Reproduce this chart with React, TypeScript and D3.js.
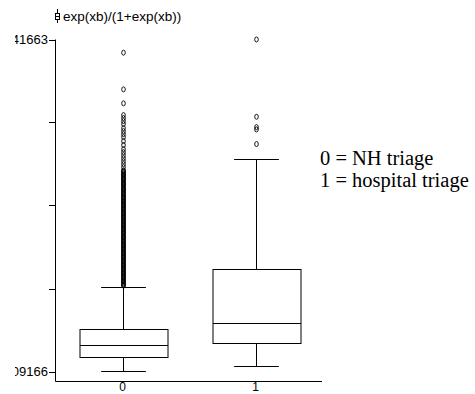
import React from "react";
import * as d3 from "d3";

// groups and box statistics (predicted probability)
const groups = ["0", "1"];
const lowerWhisker = [0.0092, 0.0161];
const q1 = [0.0278, 0.0466];
const median = [0.0431, 0.0722];
const q3 = [0.0649, 0.1432];
const upperWhisker = [0.1192, 0.2854];

const outliers0 = [
  0.4245, 0.3767, 0.3585, 0.3432, 0.3393, 0.3354, 0.3315, 0.3262, 0.3223,
  0.3184, 0.3145, 0.3093, 0.3041, 0.2988, 0.2949, 0.291, 0.2871, 0.2832,
  0.2793, 0.2754, 0.2712, 0.2701, 0.269, 0.2674, 0.2661, 0.2652, 0.264,
  0.2621, 0.2607, 0.2599, 0.2588, 0.2569, 0.2555, 0.2546, 0.2534, 0.2521,
  0.2509, 0.2492, 0.2478, 0.2466, 0.2457, 0.2441, 0.2425, 0.2413, 0.2404,
  0.2388, 0.2371, 0.2362, 0.2352, 0.2337, 0.2321, 0.2311, 0.23, 0.2283,
  0.2268, 0.2258, 0.2249, 0.2231, 0.2217, 0.2206, 0.2196, 0.2179, 0.2165,
  0.2154, 0.2144, 0.2127, 0.2112, 0.2103, 0.2093, 0.2077, 0.2061, 0.2049,
  0.204, 0.2024, 0.2009, 0.1998, 0.1988, 0.1971, 0.1957, 0.1946, 0.1935,
  0.1919, 0.1905, 0.1893, 0.1884, 0.1866, 0.1851, 0.1843, 0.1832, 0.1815,
  0.18, 0.1791, 0.1779, 0.1763, 0.1748, 0.1737, 0.1727, 0.1711, 0.1696,
  0.1687, 0.1675, 0.1658, 0.1643, 0.1633, 0.1624, 0.1607, 0.1592, 0.1583,
  0.1571, 0.1555, 0.154, 0.1529, 0.1519, 0.1502, 0.1487, 0.1477, 0.1468,
  0.1451, 0.1436, 0.1426, 0.1415, 0.1399, 0.1384, 0.1373, 0.1363, 0.1347,
  0.1331, 0.1322, 0.1312, 0.1295, 0.128, 0.127, 0.1259, 0.1243, 0.1228,
  0.1219, 0.121,
];
const outliers1 = [0.4417, 0.341, 0.3275, 0.3245, 0.3054];
const outliers = [outliers0, outliers1];

const yTicks = [0.009166, 0.11729, 0.225415, 0.333539, 0.441663];
const yTickLabels = [".009166", "", "", "", ".441663"];
const title = "exp(xb)/(1+exp(xb))";
const legendLines = ["0 = NH triage", "1 = hospital triage"];

const W = 475;
const H = 394;
const sans = "'Liberation Sans', Arial, sans-serif";
const serif = "'Liberation Serif', 'Times New Roman', serif";

export default function App() {
  const x = d3.scaleBand().domain(groups).range([56, 322]).padding(0);
  const y = d3.scaleLinear().domain([0.009166, 0.441663]).range([371.5, 39.5]);
  const bw = x.bandwidth();
  const boxW = bw * 0.66;
  const capW = boxW * 0.51;

  return (
    <svg
      width={W}
      height={H}
      style={{ position: "absolute", left: 0, top: 0, background: "#fff" }}
    >
      <defs>
        <clipPath id="lbl">
          <rect x={15} y={0} width={W} height={H} />
        </clipPath>
      </defs>

      {/* title with little box icon */}
      <g stroke="#000" strokeWidth={1} fill="none">
        <line x1={57.5} x2={57.5} y1={9} y2={23} />
        <rect x={55.5} y={13.5} width={4} height={6} fill="#fff" />
        <line x1={55.5} x2={59.5} y1={16.5} y2={16.5} />
      </g>
      <text x={63} y={21} fontFamily={sans} fontSize={13.5}>
        {title}
      </text>

      {/* axes */}
      <line x1={55.5} x2={55.5} y1={y(yTicks[4])} y2={381.5} stroke="#000" />
      <line x1={55.5} x2={322} y1={381.5} y2={381.5} stroke="#000" />
      {yTicks.map((t, i) => (
        <g key={i}>
          <line
            x1={49}
            x2={55.5}
            y1={Math.round(y(t)) + 0.5}
            y2={Math.round(y(t)) + 0.5}
            stroke="#000"
          />
          <text
            x={48}
            y={y(t) + 4.5}
            textAnchor="end"
            fontFamily={sans}
            fontSize={13}
            clipPath="url(#lbl)"
          >
            {yTickLabels[i]}
          </text>
        </g>
      ))}
      {groups.map((g) => (
        <text
          key={g}
          x={(x(g) as number) + bw / 2}
          y={391}
          textAnchor="middle"
          fontFamily={sans}
          fontSize={12}
        >
          {g}
        </text>
      ))}

      {/* boxes */}
      {groups.map((g, i) => {
        const cx = Math.round((x(g) as number) + bw / 2) + 0.5;
        const r = (v: number) => Math.round(y(v)) + 0.5;
        return (
          <g key={g} stroke="#000" strokeWidth={1} fill="none">
            <line x1={cx} x2={cx} y1={r(lowerWhisker[i])} y2={r(q1[i])} />
            <line x1={cx} x2={cx} y1={r(q3[i])} y2={r(upperWhisker[i])} />
            <line
              x1={cx - capW / 2}
              x2={cx + capW / 2}
              y1={r(lowerWhisker[i])}
              y2={r(lowerWhisker[i])}
            />
            <line
              x1={cx - capW / 2}
              x2={cx + capW / 2}
              y1={r(upperWhisker[i])}
              y2={r(upperWhisker[i])}
            />
            <rect
              x={Math.round(cx - boxW / 2)}
              y={r(q3[i])}
              width={Math.round(boxW)}
              height={r(q1[i]) - r(q3[i])}
            />
            <line
              x1={Math.round(cx - boxW / 2)}
              x2={Math.round(cx - boxW / 2) + Math.round(boxW)}
              y1={r(median[i])}
              y2={r(median[i])}
            />
            {outliers[i].map((v, j) => (
              <ellipse
                key={j}
                cx={cx}
                cy={y(v)}
                rx={1.8}
                ry={2.5}
                strokeWidth={0.9}
              />
            ))}
          </g>
        );
      })}

      {/* legend note */}
      {legendLines.map((t, i) => (
        <text key={i} x={320} y={165 + i * 22} fontFamily={serif} fontSize={20.5}>
          {t}
        </text>
      ))}
    </svg>
  );
}
